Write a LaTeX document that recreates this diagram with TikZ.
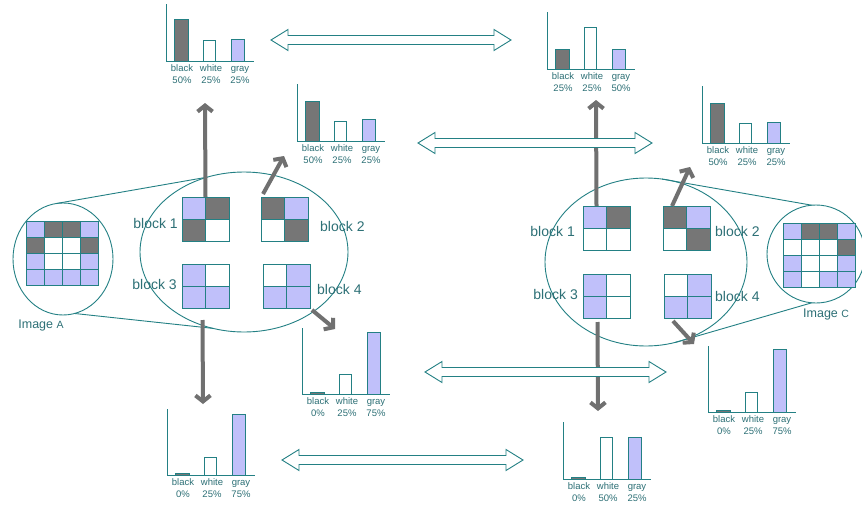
\documentclass[tikz,border=0pt]{standalone}
\usepackage{fontspec}
\setmainfont{Liberation Sans}
\usetikzlibrary{arrows.meta,shapes.geometric}

\definecolor{ln}{RGB}{35,128,132}
\definecolor{txt}{RGB}{45,112,118}
\definecolor{cD}{RGB}{118,118,118}
\definecolor{cG}{RGB}{192,192,250}
\definecolor{cW}{RGB}{255,255,255}
\definecolor{arr}{RGB}{112,112,112}

\tikzset{
  outline/.style={draw=ln, line width=0.9pt},
  cell/.style={draw=ln, line width=0.9pt},
  hlab/.style={text=txt, inner sep=0pt, anchor=base, font=\fontsize{9.5}{10}\selectfont},
  blab/.style={text=txt, inner sep=0pt, font=\fontsize{14}{16}\selectfont},
  zoomring/.style={ellipse, draw=ln, line width=0.9pt, inner sep=0pt, outer sep=0pt},
  grayarrow/.style={draw=arr, line width=4pt, -{Straight Barb[length=6pt,width=15pt]}},
  hollowarrow/.style={draw=ln, line width=0.9pt, fill=white, line join=miter},
}

% histogram: name, origin x, origin y, bar heights (black, white, gray), percent labels
\newcommand\mkhist[9]{%
  \pgfmathsetmacro\axh{max(#4,#5,#6)>50 ? 66 : 57}
  \draw[outline] (#2,#3-\axh) -- (#2,#3) -- (#2+88,#3);
  \draw[cell,fill=cD] (#2+8,#3) rectangle (#2+22,#3-#4);
  \draw[cell,fill=cW] (#2+37,#3) rectangle (#2+49,#3-#5);
  \draw[cell,fill=cG] (#2+65,#3) rectangle (#2+78,#3-#6);
  \node[hlab] (#1-nb) at (#2+16,#3+10.5) {black};
  \node[hlab] (#1-nw) at (#2+45,#3+10.5) {white};
  \node[hlab] (#1-ng) at (#2+74,#3+10.5) {gray};
  \node[hlab] (#1-pb) at (#2+16,#3+22) {#7};
  \node[hlab] (#1-pw) at (#2+45,#3+22) {#8};
  \node[hlab] (#1-pg) at (#2+74,#3+22) {#9};
}

% 2x2 block: name, top-left x, top-left y, cell colours TL TR BL BR
\newcommand\mkblock[7]{%
  \node[inner sep=0pt, outer sep=0pt, minimum width=47pt, minimum height=44pt, anchor=north west] (#1) at (#2,#3) {};
  \fill[c#4] (#1.north west) rectangle (#1.center);
  \fill[c#5] (#1.north) rectangle (#1.east);
  \fill[c#6] (#1.west) rectangle (#1.south);
  \fill[c#7] (#1.center) rectangle (#1.south east);
  \draw[cell] (#1.north west) rectangle (#1.south east)
              (#1.north) -- (#1.south) (#1.west) -- (#1.east);
}

% 4x4 image grid: top-left x, top-left y, four rows of colours
\newcommand\mkgrid[6]{%
  \foreach \row [count=\r from 0] in {{#3},{#4},{#5},{#6}} {
    \foreach \c [count=\i from 0] in \row {
      \draw[cell,fill=c\c] (#1+\i*18.1,#2+\r*16.2) rectangle ++(18.1,16.2);
    }
  }
}

% hollow double-headed arrow: left tip x, right tip x, y
\newcommand\mkdarrow[3]{%
  \draw[hollowarrow] (#1,#3) -- (#1+17,#3-10.5) -- (#1+17,#3-4.5) -- (#2-17,#3-4.5)
    -- (#2-17,#3-10.5) -- (#2,#3) -- (#2-17,#3+10.5) -- (#2-17,#3+4.5)
    -- (#1+17,#3+4.5) -- (#1+17,#3+10.5) -- cycle;
}

\begin{document}
\begin{tikzpicture}[x=1pt,y=-1pt]
\useasboundingbox (0,0) rectangle (862,506);
\fill[white] (0,0) rectangle (862,506);

% zoom rings
\node[zoomring, minimum width=208pt, minimum height=160pt] (ringA) at (244,252) {};
\node[zoomring, minimum width=100pt, minimum height=112pt] (imgA) at (63,259) {};
\node[zoomring, minimum width=202pt, minimum height=168pt] (ringC) at (646,262) {};
\node[zoomring, minimum width=98pt, minimum height=98pt] (imgC) at (816,254) {};

% magnification cones
\draw[outline] (imgA.97) -- (ringA.116);
\draw[outline] (imgA.282) -- (ringA.248);
\draw[outline] (ringC.79) -- (imgC.95);
\draw[outline] (imgC.265) -- (ringC.290);

% whole images
\mkgrid{26}{221}{G,D,D,G}{D,W,W,D}{G,W,W,G}{G,G,G,G}
\mkgrid{783}{223}{G,D,D,G}{W,W,W,D}{G,W,W,G}{G,W,G,G}
\node[blab, font=\fontsize{12.5}{14}\selectfont] (capA) at (41,325) {Image {\fontsize{10.5}{12}\selectfont A}};
\node[blab, font=\fontsize{12.5}{14}\selectfont, anchor=west] (capC) at (803,314) {Image {\fontsize{10.5}{12}\selectfont C}};

% blocks of image A
\mkblock{a1}{182}{197}{G}{D}{D}{W}
\mkblock{a2}{261}{197}{D}{G}{W}{D}
\mkblock{a3}{182}{264}{G}{W}{G}{G}
\mkblock{a4}{263}{264}{W}{G}{G}{G}
\node[blab, anchor=east] (la1) at (178,223) {block 1};
\node[blab, anchor=west] (la2) at (320,226) {block 2};
\node[blab, anchor=east] (la3) at (177,284) {block 3};
\node[blab, anchor=west] (la4) at (317,289) {block 4};

% blocks of image C
\mkblock{c1}{583}{206}{G}{D}{W}{W}
\mkblock{c2}{663}{206}{D}{G}{W}{D}
\mkblock{c3}{583}{274}{G}{W}{G}{W}
\mkblock{c4}{664}{274}{W}{G}{G}{G}
\node[blab, anchor=east] (lc1) at (575,231) {block 1};
\node[blab, anchor=west] (lc2) at (715,231) {block 2};
\node[blab, anchor=east] (lc3) at (578,294) {block 3};
\node[blab, anchor=west] (lc4) at (715,296) {block 4};

% histograms
\mkhist{h1}{166}{61}{42}{21}{22}{50\%}{25\%}{25\%}
\mkhist{h2}{297}{141}{40}{20}{22}{50\%}{25\%}{25\%}
\mkhist{h3}{302}{394}{1.5}{20}{62}{0\%}{25\%}{75\%}
\mkhist{h4}{167}{475}{1.5}{18}{61}{0\%}{25\%}{75\%}
\mkhist{h5}{547}{69}{20}{42}{20}{25\%}{25\%}{50\%}
\mkhist{h6}{702}{143}{40}{20}{21}{50\%}{25\%}{25\%}
\mkhist{h7}{708}{412}{1.5}{20}{63}{0\%}{25\%}{75\%}
\mkhist{h8}{563}{479}{1.5}{42}{42}{0\%}{50\%}{25\%}

% block-to-histogram arrows
\coordinate (a1t) at (205,103);
\coordinate (a2t) at (284,156);
\coordinate (a3t) at (203,404);
\coordinate (a4t) at (335,329);
\draw[grayarrow] (a1.north) -- (a1t);
\draw[grayarrow] ([xshift=2pt,yshift=3pt]a2.north west) -- (a2t);
\draw[grayarrow] ([xshift=-3pt,yshift=-12pt]a3.south) -- (a3t);
\draw[grayarrow] ([xshift=2pt,yshift=-2pt]a4.south east) -- (a4t);

\coordinate (c1t) at (596,100);
\coordinate (c2t) at (690,167);
\coordinate (c3t) at (598,411);
\coordinate (c4t) at (694,344);
\draw[grayarrow] ([xshift=-10pt]c1.north) -- (c1t);
\draw[grayarrow] ([xshift=9pt]c2.north west) -- (c2t);
\draw[grayarrow] ([xshift=-9pt,yshift=-4pt]c3.south) -- (c3t);
\draw[grayarrow] ([xshift=9pt,yshift=-3pt]c4.south west) -- (c4t);

% comparisons between matching histograms
\mkdarrow{271}{511}{40}
\mkdarrow{418}{652}{143}
\mkdarrow{425}{666}{372}
\mkdarrow{282}{523}{460}
\end{tikzpicture}
\end{document}
